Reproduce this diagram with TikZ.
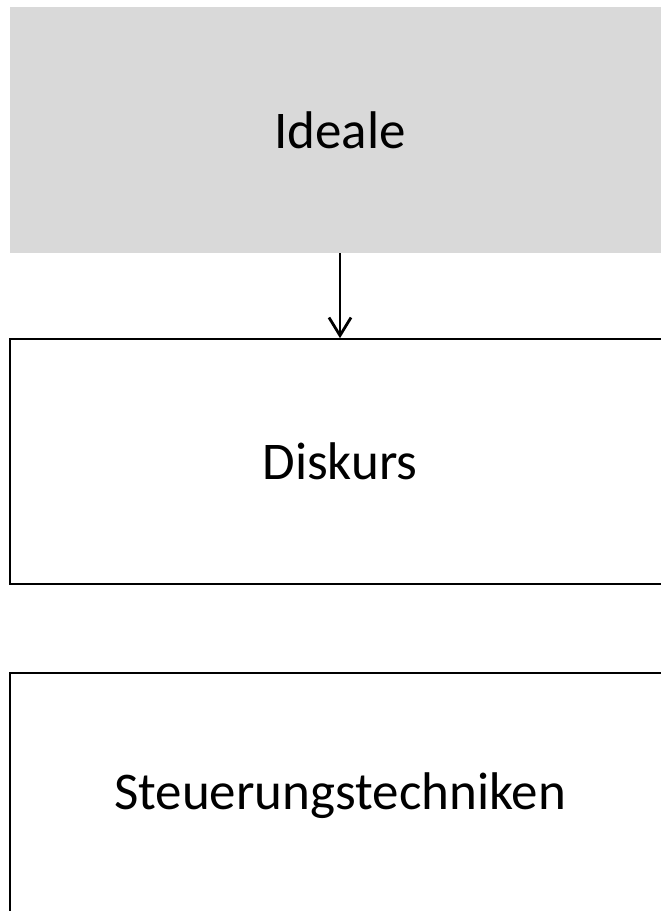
\documentclass[tikz,border=0pt]{standalone}
\usepackage{fontspec}
\setmainfont{Carlito}
\usetikzlibrary{positioning,arrows.meta}
\definecolor{boxgray}{HTML}{D9D9D9}
\tikzset{
  block/.style={minimum width=660pt, minimum height=245pt, inner sep=0pt,
    font=\fontsize{53}{60}\selectfont},
  frame/.style={block, draw=black, line width=2pt},
}
\begin{document}
\begin{tikzpicture}[x=1pt,y=1pt]
\useasboundingbox (0,0) rectangle (661,911);
\clip (0,0) rectangle (661,911);
\node[block, fill=boxgray, minimum height=246pt] (ideale) at (340,781) {Ideale};
\node[frame, below=85pt of ideale] (diskurs) {Diskurs};
\node[frame, below=87pt of diskurs] (steuerung) {Steuerungstechniken};
\draw[line width=2.8pt, -{Straight Barb[length=18pt,width=22pt]}] (ideale) -- (diskurs);
\end{tikzpicture}
\end{document}
